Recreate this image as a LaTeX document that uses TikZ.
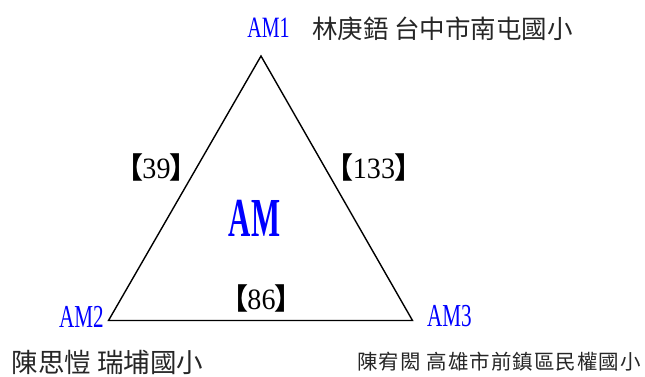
\documentclass[tikz,border=0pt]{standalone}
\usepackage{fontspec}
\setmainfont{Liberation Serif}
\newfontfamily\cjk{Noto Sans CJK TC}
\newfontfamily\cjkwide[LetterSpace=5]{Noto Sans CJK TC}
\newcommand{\latx}[3]{\scalebox{#1}[1]{\fontsize{#2}{#2}\selectfont #3}}
\newcommand{\latb}[3]{\scalebox{#1}[1]{\fontsize{#2}{#2}\selectfont\bfseries #3}}
\newcommand{\brk}[3]{{\cjk\fontsize{29}{29}\selectfont\bfseries 【}\hspace{-1pt}\latx{#1}{#2}{#3}\hspace{-1pt}{\cjk\fontsize{29}{29}\selectfont\bfseries 】}}
\tikzset{
  amlbl/.style={inner sep=0pt, text=blue},
  person/.style={inner sep=0pt, text=black!85},
  edgelbl/.style={inner sep=0pt, text=black},
  tri/.style={line width=1.4pt, line join=miter}
}
\begin{document}
\begin{tikzpicture}[x=1pt,y=-1pt]
\useasboundingbox (0,0) rectangle (645,376);
\coordinate (v1) at (261,56);
\coordinate (v2) at (108.5,320.5);
\coordinate (v3) at (412.5,320.5);
\draw[tri] (v1) -- (v2) -- (v3) -- cycle;
\node[amlbl] (am1) at (268.5,27.5) {\latx{0.68}{29.5}{AM1}};
\node[amlbl] (am2) at (81.5,316.5) {\latx{0.66}{32}{AM2}};
\node[amlbl] (am3) at (449.5,316) {\latx{0.66}{32}{AM3}};
\node[amlbl] (am) at (254.5,218) {\latb{0.56}{55}{AM}};
\node[person] (p1) at (442.5,29) {\cjk\fontsize{25.5}{25.5}\selectfont 林庚鋙 台中市南屯國小};
\node[person] (p2) at (107.5,362.5) {\cjk\fontsize{26.5}{26.5}\selectfont 陳思愷 瑞埔國小};
\node[person] (p3) at (499,361.5) {\cjkwide\fontsize{20.5}{20.5}\selectfont 陳宥閎 高雄市前鎮區民權國小};
\node[edgelbl] (e12) at (156.5,167) {\brk{0.95}{29.5}{39}};
\node[edgelbl] (e13) at (374,167) {\brk{0.95}{29.5}{133}};
\node[edgelbl] (e23) at (261.5,298) {\brk{0.95}{29.5}{86}};
\end{tikzpicture}
\end{document}
